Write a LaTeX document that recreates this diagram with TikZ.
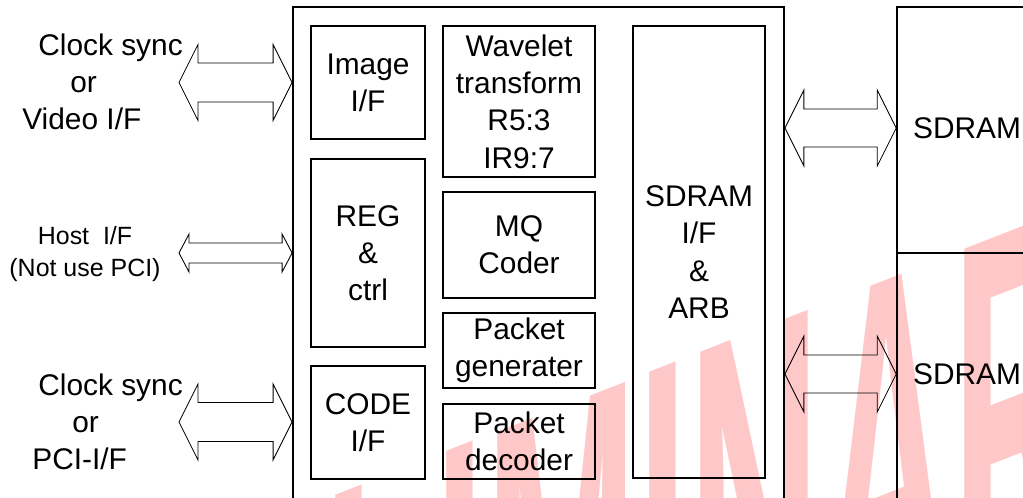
\documentclass[tikz,border=0pt]{standalone}
\usepackage{fontspec}
\setmainfont{Liberation Sans}
\usetikzlibrary{calc}
\definecolor{stamppink}{RGB}{255,200,200}
\tikzset{
    block/.style 2 args={
        draw,
        line width=0.85pt,
        minimum width=#1*0.02cm,
        minimum height=#2*0.02cm,
        inner sep=0pt,
        align=center,
        font=\fontsize{17}{21.2}\selectfont},
    side/.style={
        inner sep=0pt,
        align=left,
        font=\fontsize{17}{21}\selectfont},
    bus/.style n args={3}{
        draw,
        line width=0.5pt,
        to path={-- ++(#3,-#2) -- ++(0,#2-#1) -- ($(\tikztotarget)+(-#3,-#1)$)
            -- ++(0,#1-#2) -- (\tikztotarget) -- ++(-#3,#2) -- ++(0,#1-#2)
            -- ($(\tikztostart)+(#3,#1)$) -- ++(0,#2-#1) -- cycle}},
    stamp/.style={
        transform shape,
        anchor=base west,
        inner sep=0pt,
        text=stamppink,
        font=\fontsize{104}{104}\selectfont\bfseries}}

\begin{document}
\begin{tikzpicture}[x=0.02cm, y=-0.02cm]
    \useasboundingbox (0,0) rectangle (1023,497);
    \clip (0,0) rectangle (1023,497);

    \begin{scope}[shift={(-53,1011)}, yslant=0.39, yscale=2.9]
        \node[stamp] (wm) at (0,0) {PRELIMINARY};
    \end{scope}

    \node[draw, line width=1.1pt, minimum width=9.82cm, minimum height=11.32cm] (chip) at (538.5,290) {};
    \node[block={114}{113}] (img) at (368,82.5) {Image\\I/F};
    \node[block={114}{188}] (reg) at (368,253) {REG\\\&\\ctrl};
    \node[block={114}{113}] (code) at (368,422.5) {CODE\\I/F};
    \node[block={152}{151}] (wav) at (519,101.5) {Wavelet\\transform\\R5:3\\IR9:7};
    \node[block={152}{106}] (mq) at (519,245) {MQ\\Coder};
    \node[block={152}{75}] (pgen) at (519,350.5) {Packet\\generater};
    \node[block={152}{75}] (pdec) at (519,441.5) {Packet\\decoder};
    \node[block={132}{452}] (sdif) at (699,252) {SDRAM\\I/F\\\&\\ARB};

    \node[draw, line width=0.9pt, minimum width=2.86cm, minimum height=4.92cm] (ram1) at (968.5,130) {};
    \node[draw, line width=0.9pt, minimum width=2.86cm, minimum height=5.34cm] (ram2) at (968.5,386.5) {};
    \node[side] (ram1txt) at (967,128) {SDRAM};
    \node[side] (ram2txt) at (967,374) {SDRAM};

    \node[side, anchor=west] (vid) at (22,82) {\hspace*{0.32cm}Clock sync\\\hspace*{0.96cm}or\\Video I/F};
    \node[side, align=center, font=\fontsize{14.2}{18.1}\selectfont] (host) at (85,254) {Host\ \ I/F\\(Not use PCI)};
    \node[side, anchor=west] (pci) at (32,422) {\hspace*{0.12cm}Clock sync\\\hspace*{0.8cm}or\\PCI-I/F};

    \coordinate (vidtip) at (179,82.5);
    \coordinate (hosttip) at (179,253);
    \coordinate (pcitip) at (179,422);

    \draw[bus={19.5}{38}{19}] (vidtip) to (chip.west |- vidtip);
    \draw[bus={10}{19}{10}] (hosttip) to (chip.west |- hosttip);
    \draw[bus={19.5}{38}{19}] (pcitip) to (chip.west |- pcitip);
    \draw[bus={19}{38}{19}] (chip.east |- ram1txt) to (ram1.west |- ram1txt);
    \draw[bus={19}{38}{19}] (chip.east |- ram2txt) to (ram2.west |- ram2txt);
\end{tikzpicture}
\end{document}
